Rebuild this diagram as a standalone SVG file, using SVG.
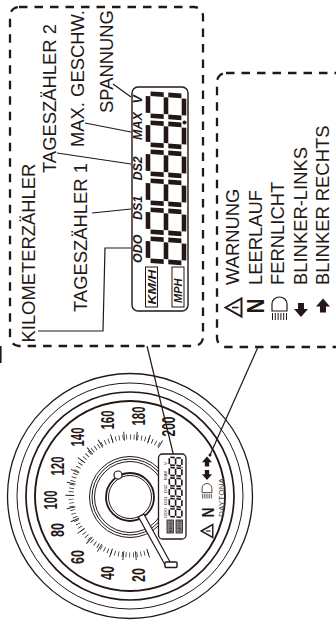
<svg xmlns="http://www.w3.org/2000/svg" xmlns:xlink="http://www.w3.org/1999/xlink" width="336" height="622" viewBox="0 0 336 622">
<style>
text{font-family:"Liberation Sans",Arial,sans-serif;fill:#231815}
.lab{font-size:18.4px}
.lcd{font-size:12.5px;font-weight:bold;font-style:italic}
.mini{font-size:4.4px}
.num{font-size:19px;font-weight:bold}
.dash{fill:none;stroke:#231815;stroke-width:2.3;stroke-dasharray:8.5 7}
.lead{fill:none;stroke:#231815;stroke-width:1.2}
.thin{fill:none;stroke:#231815;stroke-width:1}
.seg{stroke:#231815;stroke-width:4.600;fill:none}
.ln{fill:#fff;stroke:#231815}
.ico{fill:#231815}
</style>
<defs>
<g id="d8" class="seg" transform="skewX(-4)">
<path d="M2.600 0H19.400M2.600 18H19.400M2.600 36H19.400M0 2.600V15.700M0 20.300V33.400M22 2.600V15.700M22 20.300V33.400"/>
</g>
<g id="digits">
<use xlink:href="#d8" href="#d8" transform="translate(148 260.500) rotate(-90)"/>
<use xlink:href="#d8" href="#d8" transform="translate(148 231.500) rotate(-90)"/>
<use xlink:href="#d8" href="#d8" transform="translate(148 202.500) rotate(-90)"/>
<use xlink:href="#d8" href="#d8" transform="translate(148 173.500) rotate(-90)"/>
<use xlink:href="#d8" href="#d8" transform="translate(148 144.500) rotate(-90)"/>
<use xlink:href="#d8" href="#d8" transform="translate(148 115.500) rotate(-90)"/>
<circle cx="184.500" cy="122.500" r="2" fill="#231815"/>
</g>
<g id="tri"><path d="M-8 0L8 -9V9Z" fill="none" stroke="#231815" stroke-width="2"/><path d="M-1.500 0H5" stroke="#231815" stroke-width="1.600"/></g>
<g id="lamp"><path d="M-7.500 2.500V-4.500A7.500 7 0 0 1 7.500 -4.500V2.500Z" fill="none" stroke="#231815" stroke-width="1.200"/><path d="M-7 4.500V11.500M-4.200 4.500V11.500M-1.400 4.500V11.500M1.400 4.500V11.500M4.200 4.500V11.500M7 4.500V11.500" stroke="#231815" stroke-width="1"/></g>
<path id="adown" class="ico" d="M-3 -7H3V-1H7L0 7L-7 -1H-3Z"/>
<path id="aup" class="ico" d="M-3 7H3V1H7L0 -7L-7 1H-3Z"/>
</defs>

<g id="frame-display"><rect class="dash" x="10" y="7" width="193" height="339" rx="9"/></g>
<g id="frame-indicators"><rect class="dash" x="217" y="73" width="135" height="274" rx="9"/></g>

<g id="connectors">
<path class="lead" d="M38 331H103L105 248H131"/>
<path class="lead" d="M92 213L131 209"/>
<path class="lead" d="M57 153L131 164"/>
<path class="lead" d="M85 123L131 132"/>
<path class="lead" d="M113 84L131 97"/>
<path class="lead" d="M147 346L174 457"/>
<path class="lead" d="M258 347L210 455"/>
<circle cx="174" cy="457" r="1.500" fill="#231815"/>
<circle cx="210" cy="455" r="1.500" fill="#231815"/>
<path d="M0.800 346V363" stroke="#231815" stroke-width="1.600"/>
</g>

<g id="label-odometer"><text class="lab" transform="translate(35 342.500) rotate(-90)">KILOMETERZÄHLER</text></g>
<g id="label-trip1"><text class="lab" transform="translate(87 312) rotate(-90)">TAGESZÄHLER 1</text></g>
<g id="label-trip2"><text class="lab" transform="translate(56 173) rotate(-90)">TAGESZÄHLER 2</text></g>
<g id="label-maxspeed"><text class="lab" transform="translate(83.500 147) rotate(-90)">MAX. GESCHW.</text></g>
<g id="label-voltage"><text class="lab" transform="translate(113 113) rotate(-90)">SPANNUNG</text></g>

<g id="lcd-large">
<rect x="132" y="87" width="56" height="224" rx="6" fill="#fff" stroke="#231815" stroke-width="1.400"/>
<text class="lcd" transform="translate(142.300 263) rotate(-90)">ODO</text>
<text class="lcd" transform="translate(142.300 220) rotate(-90)">DS1</text>
<text class="lcd" transform="translate(142.300 180.500) rotate(-90)">DS2</text>
<text class="lcd" transform="translate(142.300 140) rotate(-90)">MAX</text>
<text class="lcd" transform="translate(142.300 103.500) rotate(-90)">V</text>
<use xlink:href="#digits" href="#digits"/>
<rect x="145.500" y="267" width="12" height="40" fill="none" stroke="#231815"/>
<rect x="172" y="267" width="12" height="40" fill="none" stroke="#231815"/>
<text class="lcd" style="font-size:11px" transform="translate(155.500 304.500) rotate(-90)" textLength="35" lengthAdjust="spacingAndGlyphs">KM/H</text>
<text class="lcd" style="font-size:11px" transform="translate(182 303) rotate(-90)">MPH</text>
</g>

<g id="legend-warning"><use xlink:href="#tri" href="#tri" x="233.500" y="307.500"/><text class="lab" transform="translate(239 285) rotate(-90)">WARNUNG</text></g>
<g id="legend-neutral"><text transform="translate(264 313.500) rotate(-90)" font-size="24" font-weight="bold" textLength="15" lengthAdjust="spacingAndGlyphs">N</text><text class="lab" transform="translate(262 285) rotate(-90)">LEERLAUF</text></g>
<g id="legend-beam"><use xlink:href="#lamp" href="#lamp" x="279.500" y="308.500"/><text class="lab" transform="translate(284 285) rotate(-90)">FERNLICHT</text></g>
<g id="legend-left"><use xlink:href="#adown" href="#adown" x="301" y="310"/><text class="lab" transform="translate(306.500 285) rotate(-90)">BLINKER-LINKS</text></g>
<g id="legend-right"><use xlink:href="#aup" href="#aup" x="323" y="305.500"/><text class="lab" transform="translate(328.500 285) rotate(-90)">BLINKER RECHTS</text></g>

<g id="gauge">
<circle class="thin" cx="130" cy="496" r="122.500" style="stroke-width:1.300"/>
<circle class="thin" cx="130" cy="496" r="113" style="stroke-width:1"/>
<circle class="thin" cx="130" cy="496" r="104" style="stroke-width:1.700"/>
<circle class="thin" cx="130" cy="496" r="95" style="stroke-width:1.900"/>
<path d="M148.200 552.100A59 59 0 1 1 160.400 445.400" fill="none" stroke="#231815" stroke-width="5" pathLength="229" stroke-dasharray="0.700 2.900"/>
<path d="M148.500 553A60 60 0 1 1 160.900 444.600" fill="none" stroke="#231815" stroke-width="9" pathLength="229" stroke-dasharray="0.800 11.200"/>
<circle class="thin" cx="130" cy="497" r="40.500"/>
<circle class="thin" cx="130" cy="497" r="38"/>
<circle class="thin" cx="130" cy="497" r="35.500"/>
<circle cx="130" cy="497" r="24" fill="#fff" stroke="#231815" stroke-width="1.800"/>
<circle cx="130" cy="497" r="21.500" fill="#fff" stroke="#231815" stroke-width="1"/>
<circle cx="118" cy="475" r="4" class="ln" stroke-width="1.200"/>
<path class="ln" d="M138.300 516.700L144 514.300L170.700 563.300L165.700 566Z" stroke-width="1.200"/>
<rect class="ln" x="165" y="562" width="12" height="5.500" rx="1" stroke-width="1.400"/>
<text class="num" transform="translate(144.500 582) rotate(-90)" textLength="14" lengthAdjust="spacingAndGlyphs">20</text>
<text class="num" transform="translate(113.500 580) rotate(-90)" textLength="14" lengthAdjust="spacingAndGlyphs">40</text>
<text class="num" transform="translate(83.500 564) rotate(-90)" textLength="14" lengthAdjust="spacingAndGlyphs">60</text>
<text class="num" transform="translate(63.500 537) rotate(-90)" textLength="14" lengthAdjust="spacingAndGlyphs">80</text>
<text class="num" transform="translate(56.500 509.500) rotate(-90)" textLength="19" lengthAdjust="spacingAndGlyphs">100</text>
<text class="num" transform="translate(63.500 475.500) rotate(-90)" textLength="19" lengthAdjust="spacingAndGlyphs">120</text>
<text class="num" transform="translate(83.500 446.500) rotate(-90)" textLength="19" lengthAdjust="spacingAndGlyphs">140</text>
<text class="num" transform="translate(113.500 429.500) rotate(-90)" textLength="19" lengthAdjust="spacingAndGlyphs">160</text>
<text class="num" transform="translate(144.500 425.500) rotate(-90)" textLength="19" lengthAdjust="spacingAndGlyphs">180</text>
<text class="num" transform="translate(174.500 436.500) rotate(-90)" textLength="20" lengthAdjust="spacingAndGlyphs">200</text>
</g>

<g id="lcd-small">
<rect x="158.500" y="454" width="27.500" height="85" rx="4" fill="#fff" stroke="#231815" stroke-width="1.300"/>
<text class="mini" transform="translate(167 518) rotate(-90)">ODO</text>
<text class="mini" transform="translate(167 505) rotate(-90)">DS1</text>
<text class="mini" transform="translate(167 493) rotate(-90)">DS2</text>
<text class="mini" transform="translate(167 480) rotate(-90)">MAX</text>
<text class="mini" transform="translate(167 465) rotate(-90)">V</text>
<use xlink:href="#digits" href="#digits" transform="translate(117.500 424) scale(0.350 0.355)"/>
<rect x="167" y="520" width="6.500" height="13" fill="#8c8786" stroke="#231815" stroke-width="0.800"/>
<rect x="176" y="520" width="6.500" height="13" fill="#8c8786" stroke="#231815" stroke-width="0.800"/>
<text class="mini" style="font-size:4px" transform="translate(172 532) rotate(-90)" textLength="11" lengthAdjust="spacingAndGlyphs">KM/H</text>
<text class="mini" style="font-size:4px" transform="translate(181 532) rotate(-90)" textLength="11" lengthAdjust="spacingAndGlyphs">MPH</text>
</g>

<g id="gauge-icons">
<use xlink:href="#aup" href="#aup" transform="translate(207 461.500) scale(0.720)"/>
<use xlink:href="#adown" href="#adown" transform="translate(207 475) scale(0.720)"/>
<use xlink:href="#lamp" href="#lamp" transform="translate(207 491) scale(0.650)"/>
<text transform="translate(213.500 517.500) rotate(-90)" font-size="17" font-weight="bold" textLength="10" lengthAdjust="spacingAndGlyphs">N</text>
<use xlink:href="#tri" href="#tri" transform="translate(207 531) scale(0.720)"/>
<text transform="translate(224 517) rotate(-90)" font-size="7.500" textLength="39" lengthAdjust="spacingAndGlyphs" style="fill:#4a4442">DAYTONA</text>
</g>
</svg>
